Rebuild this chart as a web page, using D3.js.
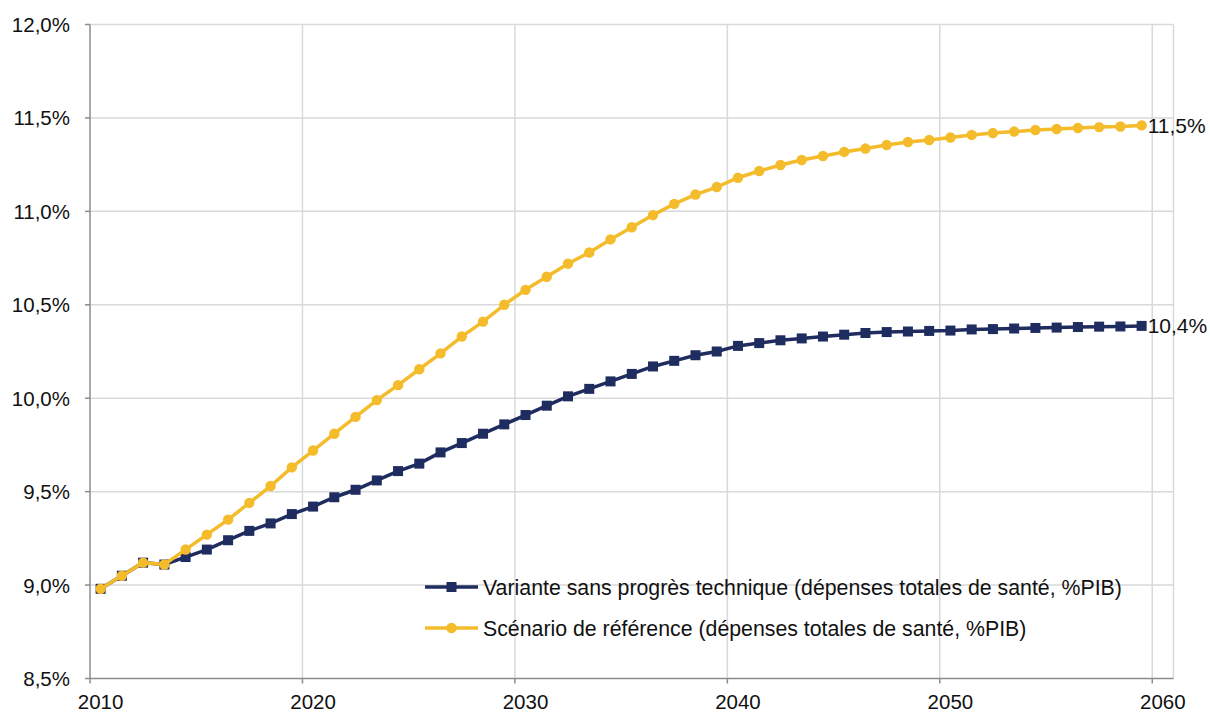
<!DOCTYPE html>
<meta charset="utf-8">
<script src="https://d3js.org/d3.v7.min.js"></script>
<style>
  body { margin: 0; background: #fff; }
  text { font-family: "Liberation Sans", Arial, sans-serif; fill: #111; }
</style>
<svg id="chart" width="1210" height="713"></svg>
<script>

// years shown on the category axis (2060 has no data)
var years = d3.range(2010, 2061);
var yearLabels = [2010, 2020, 2030, 2040, 2050, 2060];

// Variante sans progrès technique (%PIB)
var variante = [
  8.98, 9.05, 9.12, 9.11, 9.15, 9.19, 9.24, 9.29, 9.33, 9.38,
  9.42, 9.47, 9.51, 9.56, 9.61, 9.65, 9.71, 9.76, 9.81, 9.86,
  9.91, 9.96, 10.01, 10.05, 10.09, 10.13, 10.17, 10.20, 10.23, 10.25,
  10.28, 10.295, 10.31, 10.32, 10.33, 10.34, 10.349, 10.354, 10.357, 10.36,
  10.362, 10.368, 10.37, 10.373, 10.376, 10.378, 10.381, 10.383, 10.384, 10.387
];

// Scénario de référence (%PIB)
var reference = [
  8.98, 9.05, 9.12, 9.11, 9.19, 9.27, 9.35, 9.44, 9.53, 9.63,
  9.72, 9.81, 9.90, 9.99, 10.07, 10.155, 10.24, 10.33, 10.41, 10.50,
  10.58, 10.65, 10.72, 10.78, 10.85, 10.915, 10.98, 11.04, 11.09, 11.13,
  11.18, 11.216, 11.248, 11.275, 11.296, 11.318, 11.336, 11.355, 11.371, 11.382,
  11.395, 11.409, 11.419, 11.427, 11.435, 11.441, 11.446, 11.451, 11.454, 11.46
];

var yTicks = [8.5, 9.0, 9.5, 10.0, 10.5, 11.0, 11.5, 12.0];
var seriesNames = [
  "Variante sans progrès technique (dépenses totales de santé, %PIB)",
  "Scénario de référence (dépenses totales de santé, %PIB)"
];

var navy = "#1f2c5f", gold = "#f4bb2b";

var svg = d3.select("#chart");
var mLeft = 90, mRight = 1173.5, mTop = 24.5, mBottom = 678.5;

var x = d3.scaleBand().domain(years).range([mLeft, mRight]).padding(0);
var y = d3.scaleLinear().domain([8.5, 12]).range([mBottom, mTop]);
var cx = function(i){ return x(years[i]) + x.bandwidth() / 2; };

var fmt = function(v){ return v.toFixed(1).replace(".", ",") + "%"; };

// horizontal grid
svg.append("g").selectAll("line")
  .data(yTicks.slice(1))
  .enter().append("line")
    .attr("x1", mLeft).attr("x2", mRight)
    .attr("y1", d => y(d)).attr("y2", d => y(d))
    .style("stroke", "#d9d9d9").style("stroke-width", 1.5);

// vertical grid at every tenth year + right border
var vLines = yearLabels.slice(1).map(d => x(d)).concat([mRight]);
svg.append("g").selectAll("line")
  .data(vLines)
  .enter().append("line")
    .attr("x1", d => d).attr("x2", d => d)
    .attr("y1", mTop).attr("y2", mBottom)
    .style("stroke", "#d9d9d9").style("stroke-width", 1.5);

// axes
svg.append("line")
  .attr("x1", mLeft).attr("x2", mLeft).attr("y1", mTop).attr("y2", mBottom)
  .style("stroke", "#8c8c8c").style("stroke-width", 1.5);
svg.append("line")
  .attr("x1", mLeft).attr("x2", mRight).attr("y1", mBottom).attr("y2", mBottom)
  .style("stroke", "#8c8c8c").style("stroke-width", 1.5);

// y ticks + labels
svg.append("g").selectAll("line")
  .data(yTicks)
  .enter().append("line")
    .attr("x1", mLeft - 5).attr("x2", mLeft)
    .attr("y1", d => y(d)).attr("y2", d => y(d))
    .style("stroke", "#8c8c8c").style("stroke-width", 1.5);
svg.append("g").selectAll("text")
  .data(yTicks)
  .enter().append("text")
    .attr("x", 70).attr("y", d => y(d) + 7.5)
    .attr("text-anchor", "end")
    .style("font-size", "20.5px")
    .text(fmt);

// x ticks + labels
svg.append("g").selectAll("line")
  .data(yearLabels)
  .enter().append("line")
    .attr("x1", d => x(d)).attr("x2", d => x(d))
    .attr("y1", mBottom).attr("y2", mBottom + 5)
    .style("stroke", "#8c8c8c").style("stroke-width", 1.5);
svg.append("g").selectAll("text")
  .data(yearLabels)
  .enter().append("text")
    .attr("x", d => x(d) + x.bandwidth() / 2).attr("y", 709)
    .attr("text-anchor", "middle")
    .style("font-size", "20.5px")
    .text(d => d);

var line = d3.line().x((d, i) => cx(i)).y(d => y(d));

// navy series
svg.append("path")
  .datum(variante)
  .attr("d", line)
  .style("fill", "none").style("stroke", navy).style("stroke-width", 3.5);
svg.append("g").selectAll("rect")
  .data(variante)
  .enter().append("rect")
    .attr("x", (d, i) => cx(i) - 5).attr("y", d => y(d) - 5)
    .attr("width", 10).attr("height", 10)
    .style("fill", navy);

// gold series
svg.append("path")
  .datum(reference)
  .attr("d", line)
  .style("fill", "none").style("stroke", gold).style("stroke-width", 3.5);
svg.append("g").selectAll("circle")
  .data(reference)
  .enter().append("circle")
    .attr("cx", (d, i) => cx(i)).attr("cy", d => y(d))
    .attr("r", 5.2)
    .style("fill", gold);

// end labels
var last = variante.length - 1;
svg.append("text")
  .attr("x", cx(last) + 6).attr("y", y(reference[last]) + 7.5)
  .style("font-size", "21px")
  .text(fmt(reference[last]));
svg.append("text")
  .attr("x", cx(last) + 6).attr("y", y(variante[last]) + 7.5)
  .style("font-size", "21px")
  .text(fmt(variante[last]));

// legend
var legend = svg.append("g").selectAll("g")
  .data(seriesNames)
  .enter().append("g")
    .attr("transform", (d, i) => "translate(425," + (587 + i * 41) + ")");
legend.append("line")
  .attr("x1", 0).attr("x2", 53)
  .style("stroke", (d, i) => i ? gold : navy).style("stroke-width", 3.5);
legend.filter((d, i) => i === 0).append("rect")
  .attr("x", 21.5).attr("y", -5).attr("width", 10).attr("height", 10)
  .style("fill", navy);
legend.filter((d, i) => i === 1).append("circle")
  .attr("cx", 26.5).attr("r", 5.2)
  .style("fill", gold);
legend.append("text")
  .attr("x", 58).attr("y", 7.5)
  .style("font-size", "21.3px")
  .text(d => d);

</script>
